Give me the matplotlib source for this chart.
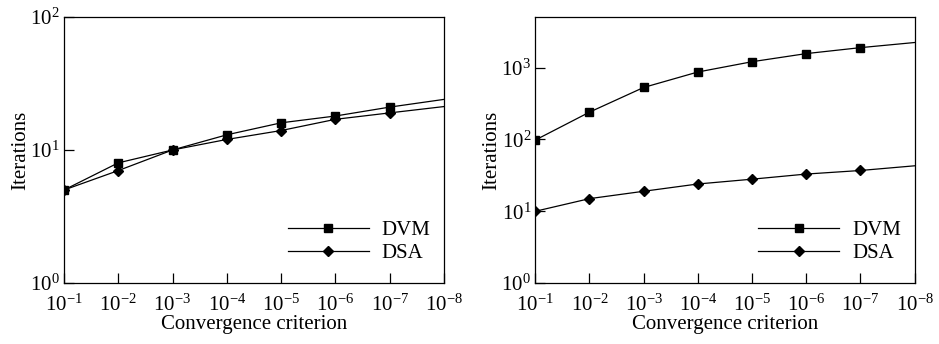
import numpy as np
import matplotlib
matplotlib.use("Agg")
import matplotlib.pyplot as plt
from matplotlib import rcParams

fs = 15
rcParams["font.family"] = "Liberation Serif"
rcParams["mathtext.fontset"] = "stix"
rcParams["font.size"] = fs

# Data (convergence criterion, iterations)
criterion = [1e-1, 1e-2, 1e-3, 1e-4, 1e-5, 1e-6, 1e-7, 1e-8]
dvm_a = [5, 8, 10, 13, 16, 18, 21, 24]
dsa_a = [5, 7, 10, 12, 14, 17, 19, 21.2]
dvm_b = [98, 240, 530, 870, 1210, 1570, 1900, 2240]
dsa_b = [10, 15, 19, 24, 28, 33, 37, 43]

fig = plt.figure(figsize=(9.39, 3.44), dpi=100)
ax1 = fig.add_axes([0.068, 0.177, 0.405, 0.774])
ax2 = fig.add_axes([0.570, 0.177, 0.404, 0.774])


def draw(ax, dvm, dsa, ylim, yticks):
    ax.plot(criterion, dvm, c="k", lw=0.9, marker="s", ms=5.5,
            markevery=slice(0, 7), label="DVM")
    ax.plot(criterion, dsa, c="k", lw=0.9, marker="D", ms=5.2,
            markevery=slice(0, 7), label="DSA")
    ax.set_xscale("log")
    ax.set_yscale("log")
    ax.set_xlim(1e-1, 1e-8)
    ax.set_ylim(*ylim)
    ax.set_xticks(criterion)
    ax.set_yticks(yticks)
    ax.minorticks_off()
    ax.tick_params(direction="in", length=7, width=0.9, labelsize=fs,
                   top=False, right=False)
    ax.tick_params(axis="x", pad=8)
    ax.tick_params(axis="y", pad=3)
    for s in ax.spines.values():
        s.set_linewidth(0.9)
    ax.set_xlabel("Convergence criterion", fontsize=fs, labelpad=0)
    ax.set_ylabel("Iterations", fontsize=fs, labelpad=0)
    ax.legend(loc="lower right", bbox_to_anchor=(1.013, 0.005), frameon=False,
              handlelength=3.9, labelspacing=0.15, handletextpad=0.6,
              fontsize=fs)


draw(ax1, dvm_a, dsa_a, (1, 100), [1, 10, 100])
draw(ax2, dvm_b, dsa_b, (1, 5100), [1, 10, 100, 1000])

plt.savefig("out.png", dpi=100)
